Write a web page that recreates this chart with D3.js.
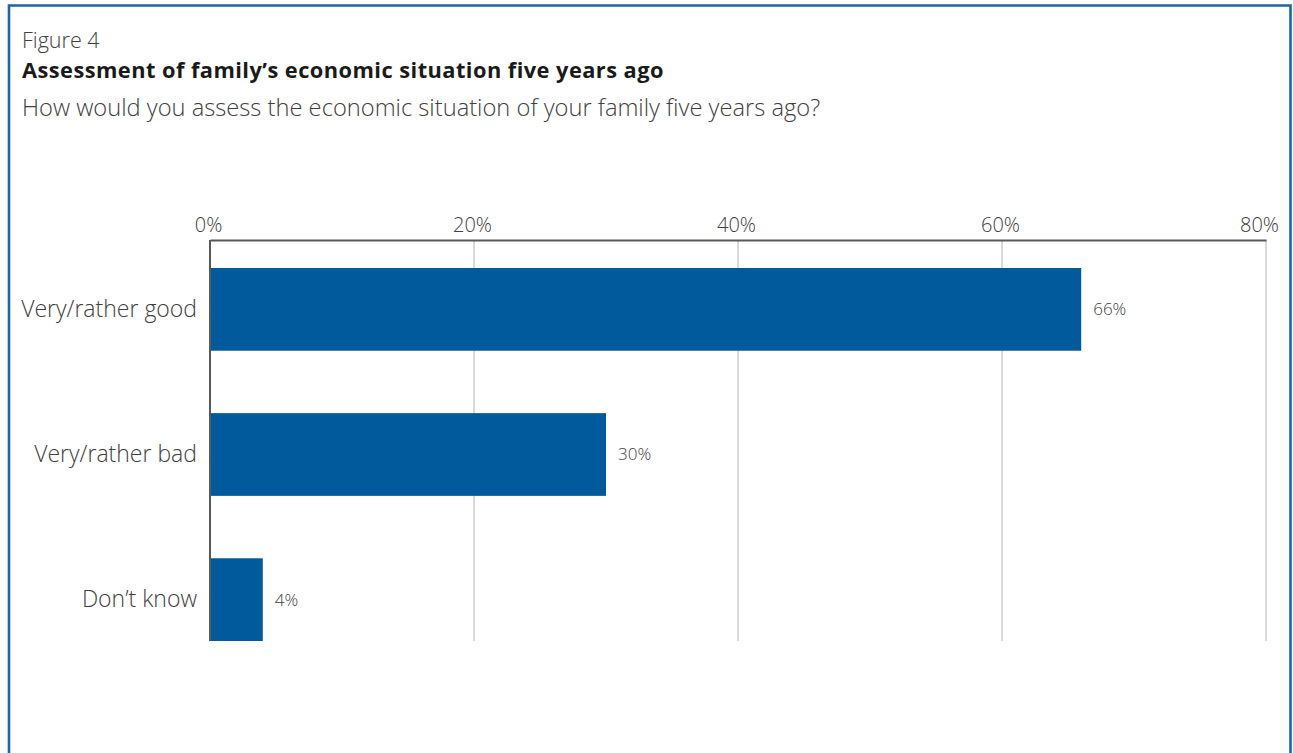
<!DOCTYPE html>
<html>
<head>
<meta charset="utf-8">
<script src="https://cdn.jsdelivr.net/npm/d3@7"></script>
<style>
  html, body { margin: 0; padding: 0; background: #fff; }
  svg { display: block; }
  text { font-family: "Open Sans", "Noto Sans", sans-serif; fill: #404040; }
</style>
</head>
<body>
<script>
const categories = ["Very/rather good", "Very/rather bad", "Don’t know"];
const values = [66, 30, 4];
const tickValues = [0, 20, 40, 60, 80];
const tickLabels = ["0%", "20%", "40%", "60%", "80%"];
const figureLabel = "Figure 4";
const title = "Assessment of family’s economic situation five years ago";
const subtitle = "How would you assess the economic situation of your family five years ago?";

const W = 1293, H = 753;
const svg = d3.select("body").append("svg").attr("width", W).attr("height", H);

// frame
svg.append("path")
  .attr("d", `M9,${H + 5} L9,5.5 L1290.5,5.5 L1290.5,${H + 5}`)
  .attr("fill", "none").attr("stroke", "#1d65a6").attr("stroke-width", 2.6);

svg.append("text").attr("x", 22).attr("y", 48).attr("font-size", 21.5).attr("font-weight", 300).text(figureLabel);
svg.append("text").attr("x", 22).attr("y", 78).attr("font-size", 21.8).attr("font-weight", 700)
  .attr("letter-spacing", 0.45).style("fill", "#1a1a1a").text(title);
svg.append("text").attr("x", 22).attr("y", 116).attr("font-size", 23.7).attr("font-weight", 300).text(subtitle);

const x = d3.scaleLinear().domain([0, 80]).range([210, 1266]);
const y = d3.scaleBand().domain(categories).range([268, 641]).paddingInner(0.43).paddingOuter(0);
const plotTop = 240, plotBottom = 641;

// gridlines
svg.append("g").selectAll("line").data(tickValues.slice(1)).join("line")
  .attr("x1", d => x(d)).attr("x2", d => x(d))
  .attr("y1", plotTop).attr("y2", plotBottom)
  .attr("stroke", "#c0c0c0").attr("stroke-width", 1.2);

// bars
svg.append("g").selectAll("rect").data(values).join("rect")
  .attr("x", x(0))
  .attr("y", (d, i) => y(categories[i]))
  .attr("width", d => x(d) - x(0))
  .attr("height", y.bandwidth())
  .attr("fill", "#005a9c");

// top axis
const axisTop = d3.axisTop(x).tickValues(tickValues).tickFormat((d, i) => tickLabels[i]).tickSize(0).tickPadding(8);
const gAx = svg.append("g").attr("transform", `translate(0,${plotTop})`).call(axisTop);
gAx.select(".domain").attr("stroke", "#595959").attr("stroke-width", 2);
gAx.selectAll("text").attr("font-size", 20).attr("font-weight", 300).attr("font-family", null).style("fill", "#404040")
  .attr("dx", (d, i, n) => i === n.length - 1 ? -7 : -2);

// left axis
const axisLeft = d3.axisLeft(y).tickSize(0).tickPadding(13);
const gLy = svg.append("g").attr("transform", `translate(${x(0)},0)`).call(axisLeft);
gLy.select(".domain").attr("d", `M0,${plotTop}V${plotBottom}`).attr("stroke", "#595959").attr("stroke-width", 2);
gLy.selectAll("text").attr("font-size", 23).attr("font-weight", 300).attr("font-family", null).style("fill", "#404040");

// value labels
svg.append("g").selectAll("text").data(values).join("text")
  .attr("x", d => x(d) + 12)
  .attr("y", (d, i) => y(categories[i]) + y.bandwidth() / 2)
  .attr("dy", "0.35em")
  .attr("font-size", 17).attr("font-weight", 300)
  .text(d => d + "%");
</script>
</body>
</html>
